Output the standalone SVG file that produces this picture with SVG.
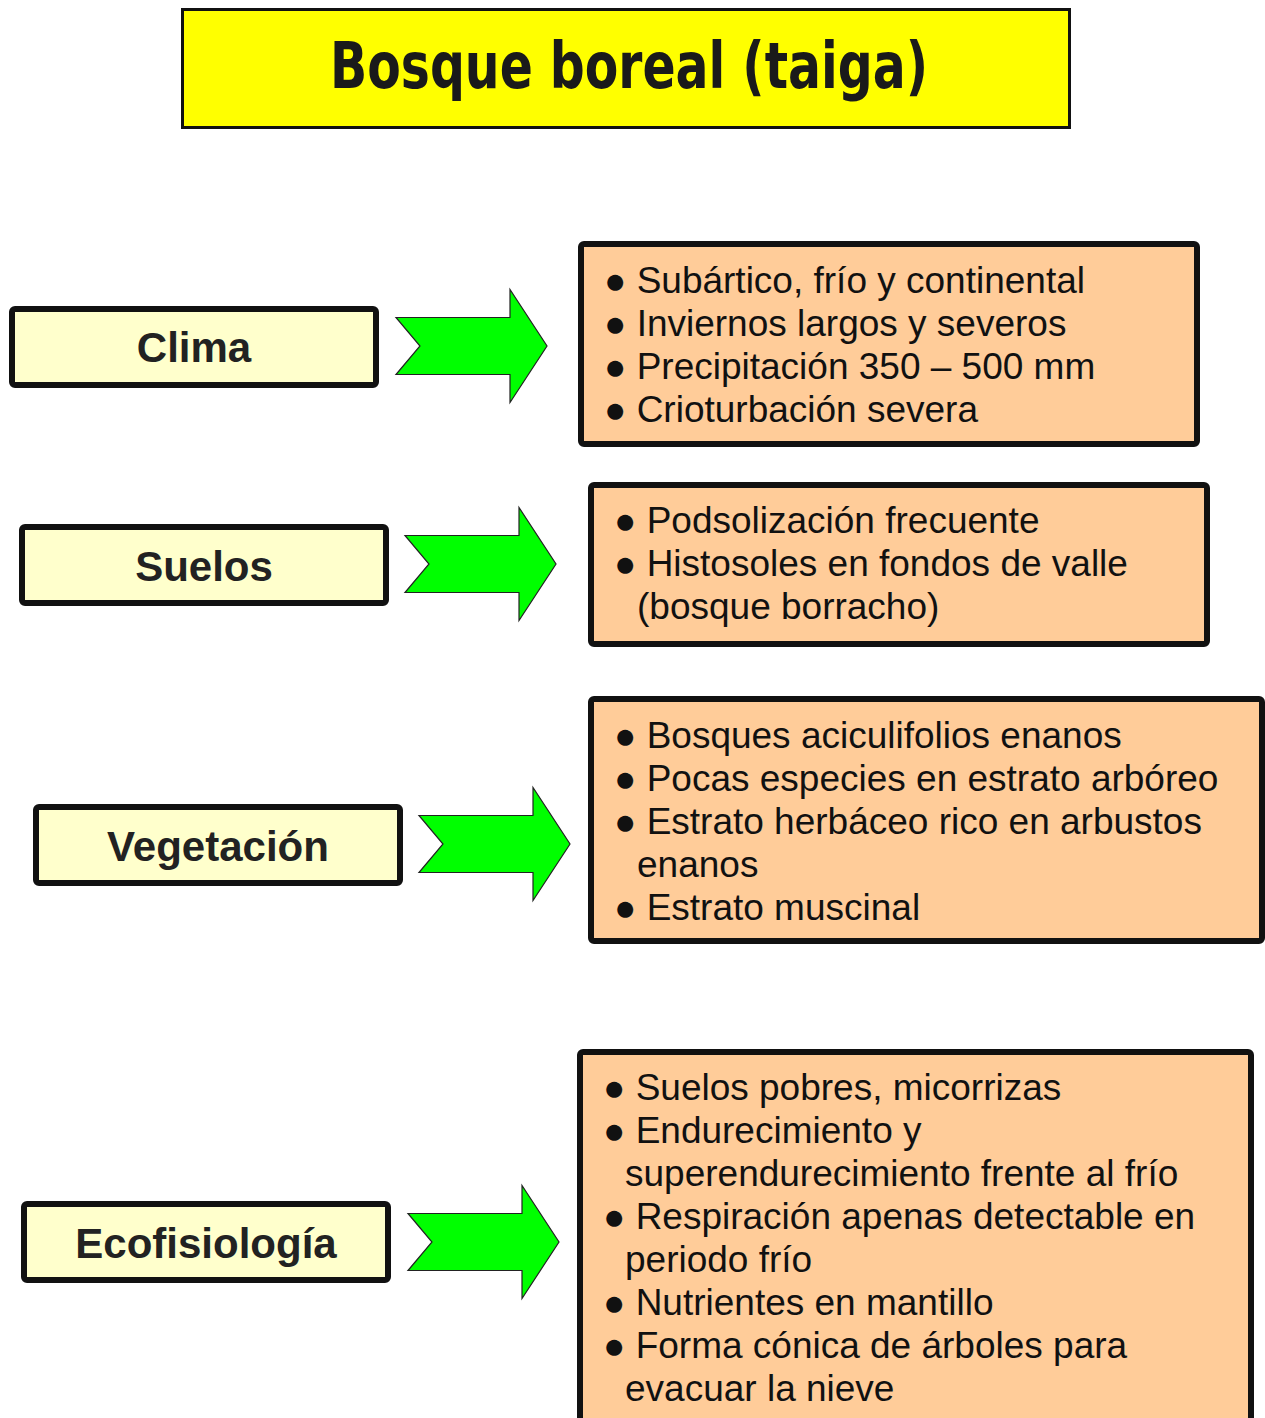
<svg xmlns="http://www.w3.org/2000/svg" width="1265" height="1418" viewBox="0 0 1265 1418">
<style>
.label{font-family:"Liberation Sans",Arial,sans-serif;font-weight:bold;font-size:42px;fill:#222;text-anchor:middle}
.item{font-family:"Liberation Sans",Arial,sans-serif;font-size:37px;fill:#111}
.lbox{fill:#FFFFCC;stroke:#111;stroke-width:6}
.obox{fill:#FFCC99;stroke:#111;stroke-width:6}
.arrow{fill:#00FF00;stroke:#222;stroke-width:1.2;stroke-linejoin:miter}
</style>
<defs>
<path id="arr" d="M0,-28.5 L114,-28.5 L114,-56.5 L151,0 L114,56.5 L114,28.5 L0,28.5 L24,0 Z"/>
</defs>
<rect width="1265" height="1418" fill="#FFFFFF"/>
<g id="title">
<rect x="182.5" y="9.5" width="887" height="118" fill="#FFFF00" stroke="#111" stroke-width="3"/>
<text x="629" y="88" font-family="'Comic Sans MS','DejaVu Sans',sans-serif" font-weight="bold" font-size="64" fill="#1a1a1a" text-anchor="middle" textLength="598" lengthAdjust="spacingAndGlyphs">Bosque boreal (taiga)</text>
</g>
<g id="connectors">
<use href="#arr" class="arrow" transform="translate(396,346)"/>
<use href="#arr" class="arrow" transform="translate(405,564)"/>
<use href="#arr" class="arrow" transform="translate(419,844)"/>
<use href="#arr" class="arrow" transform="translate(408,1242)"/>
</g>
<g id="clima">
<rect class="lbox" x="12" y="309" width="364" height="76" rx="3"/>
<text class="label" x="194" y="362">Clima</text>
</g>
<g id="suelos">
<rect class="lbox" x="22" y="527" width="364" height="76" rx="3"/>
<text class="label" x="204" y="581">Suelos</text>
</g>
<g id="vegetacion">
<rect class="lbox" x="36" y="807" width="364" height="76" rx="3"/>
<text class="label" x="218" y="861">Vegetación</text>
</g>
<g id="ecofisiologia">
<rect class="lbox" x="24" y="1204" width="364" height="76" rx="3"/>
<text class="label" x="206" y="1258">Ecofisiología</text>
</g>
<g id="clima-detalle">
<rect class="obox" x="581" y="244" width="616" height="200" rx="3"/>
<text class="item" x="604" y="293">● Subártico, frío y continental</text>
<text class="item" x="604" y="336">● Inviernos largos y severos</text>
<text class="item" x="604" y="379">● Precipitación 350 – 500 mm</text>
<text class="item" x="604" y="422">● Crioturbación severa</text>
</g>
<g id="suelos-detalle">
<rect class="obox" x="591" y="485" width="616" height="159" rx="3"/>
<text class="item" x="614" y="533">● Podsolización frecuente</text>
<text class="item" x="614" y="576">● Histosoles en fondos de valle</text>
<text class="item" x="637" y="619">(bosque borracho)</text>
</g>
<g id="vegetacion-detalle">
<rect class="obox" x="591" y="699" width="671" height="242" rx="3"/>
<text class="item" x="614" y="748">● Bosques aciculifolios enanos</text>
<text class="item" x="614" y="791">● Pocas especies en estrato arbóreo</text>
<text class="item" x="614" y="834">● Estrato herbáceo rico en arbustos</text>
<text class="item" x="637" y="877">enanos</text>
<text class="item" x="614" y="920">● Estrato muscinal</text>
</g>
<g id="ecofisiologia-detalle">
<rect class="obox" x="580" y="1052" width="671" height="380" rx="3"/>
<text class="item" x="603" y="1100">● Suelos pobres, micorrizas</text>
<text class="item" x="603" y="1143">● Endurecimiento y</text>
<text class="item" x="625" y="1186">superendurecimiento frente al frío</text>
<text class="item" x="603" y="1229">● Respiración apenas detectable en</text>
<text class="item" x="625" y="1272">periodo frío</text>
<text class="item" x="603" y="1315">● Nutrientes en mantillo</text>
<text class="item" x="603" y="1358">● Forma cónica de árboles para</text>
<text class="item" x="625" y="1401">evacuar la nieve</text>
</g>
</svg>
